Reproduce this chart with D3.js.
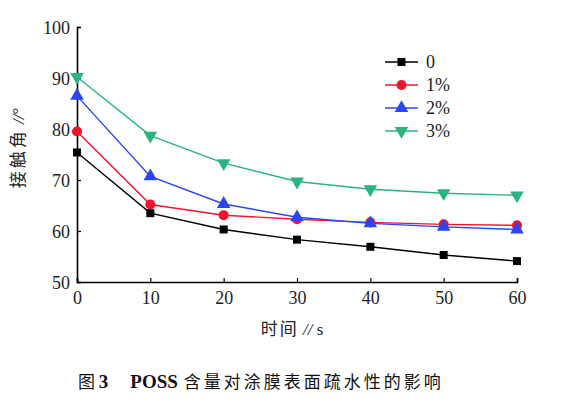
<!DOCTYPE html>
<html>
<head>
<meta charset="utf-8">
<script src="https://cdn.jsdelivr.net/npm/d3@7"></script>
<style>
  body { margin:0; background:#fff; }
  text { font-family: "Liberation Serif", "Times New Roman", serif; }
  .cjk { font-family: "Noto Sans CJK SC", sans-serif; }
</style>
</head>
<body>
<div id="canvas"></div>
<script>
var times = [0, 10, 20, 30, 40, 50, 60];
var seriesNames = ['0', '1%', '2%', '3%'];
var poss0 = [75.4, 63.5, 60.3, 58.3, 56.9, 55.3, 54.1];
var poss1 = [79.5, 65.2, 63.1, 62.3, 61.7, 61.3, 61.1];
var poss2 = [86.5, 70.7, 65.3, 62.7, 61.5, 60.8, 60.3];
var poss3 = [90.2, 78.7, 73.3, 69.7, 68.2, 67.4, 67.0];
var xTicks = [0, 10, 20, 30, 40, 50, 60];
var yTicks = [50, 60, 70, 80, 90, 100];

var colors = ['#000000', '#f2142d', '#2a45f2', '#2bb37e'];
var shapes = [d3.symbolSquare, d3.symbolCircle, d3.symbolTriangle, 'down'];
var allSeries = [poss0, poss1, poss2, poss3];

var W = 579, H = 399;
var m = {t:27, l:77, r:62, b:117};
var w = W - m.l - m.r, h = H - m.t - m.b;

var svg = d3.select('#canvas').append('svg')
    .attr('width', W).attr('height', H);
var plot = svg.append('g')
    .attr('transform', 'translate(' + m.l + ',' + m.t + ')');

var scaleX = d3.scaleLinear().domain([0, 60]).range([0, w]);
var scaleY = d3.scaleLinear().domain([50, 100]).range([h, 0]);

// axes, ticks pointing inward
var axisX = d3.axisBottom(scaleX).tickValues(xTicks).tickSize(-4).tickPadding(9);
var axisY = d3.axisLeft(scaleY).tickValues(yTicks).tickSize(-4).tickPadding(7);

var gx = plot.append('g').attr('transform', 'translate(0,' + h + ')').call(axisX);
var gy = plot.append('g').call(axisY);
[gx, gy].forEach(function(g){
  g.attr('font-family', null);
  g.select('.domain').attr('stroke', '#000').attr('stroke-width', 1.6);
  g.selectAll('.tick line').attr('stroke', '#000').attr('stroke-width', 1.2);
  g.selectAll('.tick text').attr('fill', '#222')
    .style('font-size', '18px');
});
gx.selectAll('.tick text').attr('dy', '0.7em');
gy.selectAll('.tick text').attr('dy', '0.35em');

function symbolPath(i, size){
  if (shapes[i] === 'down') {
    return d3.symbol().type(d3.symbolTriangle).size(size)();
  }
  return d3.symbol().type(shapes[i]).size(size)();
}
var sizes = [64, 80, 80, 80];

var line = d3.line()
    .x(function(d, i){ return scaleX(times[i]); })
    .y(function(d){ return scaleY(d); });

allSeries.forEach(function(vals, i){
  plot.append('path')
    .datum(vals)
    .attr('d', line)
    .attr('fill', 'none')
    .attr('stroke', colors[i])
    .attr('stroke-width', 1.4);
  plot.selectAll('.pt' + i).data(vals).enter()
    .append('path')
    .attr('class', 'pt' + i)
    .attr('d', symbolPath(i, sizes[i]))
    .attr('transform', function(d, j){
      return 'translate(' + scaleX(times[j]) + ',' + scaleY(d) + ')' + (shapes[i] === 'down' ? ' rotate(180)' : '');
    })
    .attr('fill', colors[i]);
});

// legend
var legend = svg.append('g').attr('transform', 'translate(385,62)');
seriesNames.forEach(function(name, i){
  var row = legend.append('g').attr('transform', 'translate(0,' + (i * 23) + ')');
  row.append('line').attr('x1', 0).attr('x2', 33).attr('y1', 0).attr('y2', 0)
    .attr('stroke', colors[i]).attr('stroke-width', 1.4);
  row.append('path').attr('d', symbolPath(i, sizes[i]))
    .attr('transform', 'translate(16.5,0)' + (shapes[i] === 'down' ? ' rotate(180)' : ''))
    .attr('fill', colors[i]);
  row.append('text').attr('x', 41).attr('y', 0).attr('dy', '0.35em')
    .style('font-size', '18px').attr('fill', '#222').text(name);
});

// axis titles
svg.append('text')
  .attr('x', 292).attr('y', 335)
  .attr('text-anchor', 'middle')
  .style('font-size', '17px').attr('fill', '#222')
  .html('<tspan class="cjk" letter-spacing="2">时间</tspan> <tspan font-style="italic">//</tspan> s');

svg.append('text')
  .attr('transform', 'translate(24,148) rotate(-90)')
  .attr('text-anchor', 'middle')
  .style('font-size', '17px').attr('fill', '#222')
  .html('<tspan class="cjk" letter-spacing="3">接触角</tspan> <tspan font-style="italic">//</tspan>°');

// caption
var cap = svg.append('text')
  .attr('x', 78).attr('y', 388)
  .style('font-size', '17px').attr('fill', '#111');
cap.append('tspan').attr('class', 'cjk').text('图 ');
cap.append('tspan').attr('font-weight', 'bold').style('font-size', '19px').text('3');
cap.append('tspan').attr('dx', 22).attr('font-weight', 'bold').style('font-size', '19px').text('POSS');
cap.append('tspan').attr('class', 'cjk').attr('dx', 6).attr('letter-spacing', '3').text('含量对涂膜表面疏水性的影响');
</script>
</body>
</html>
